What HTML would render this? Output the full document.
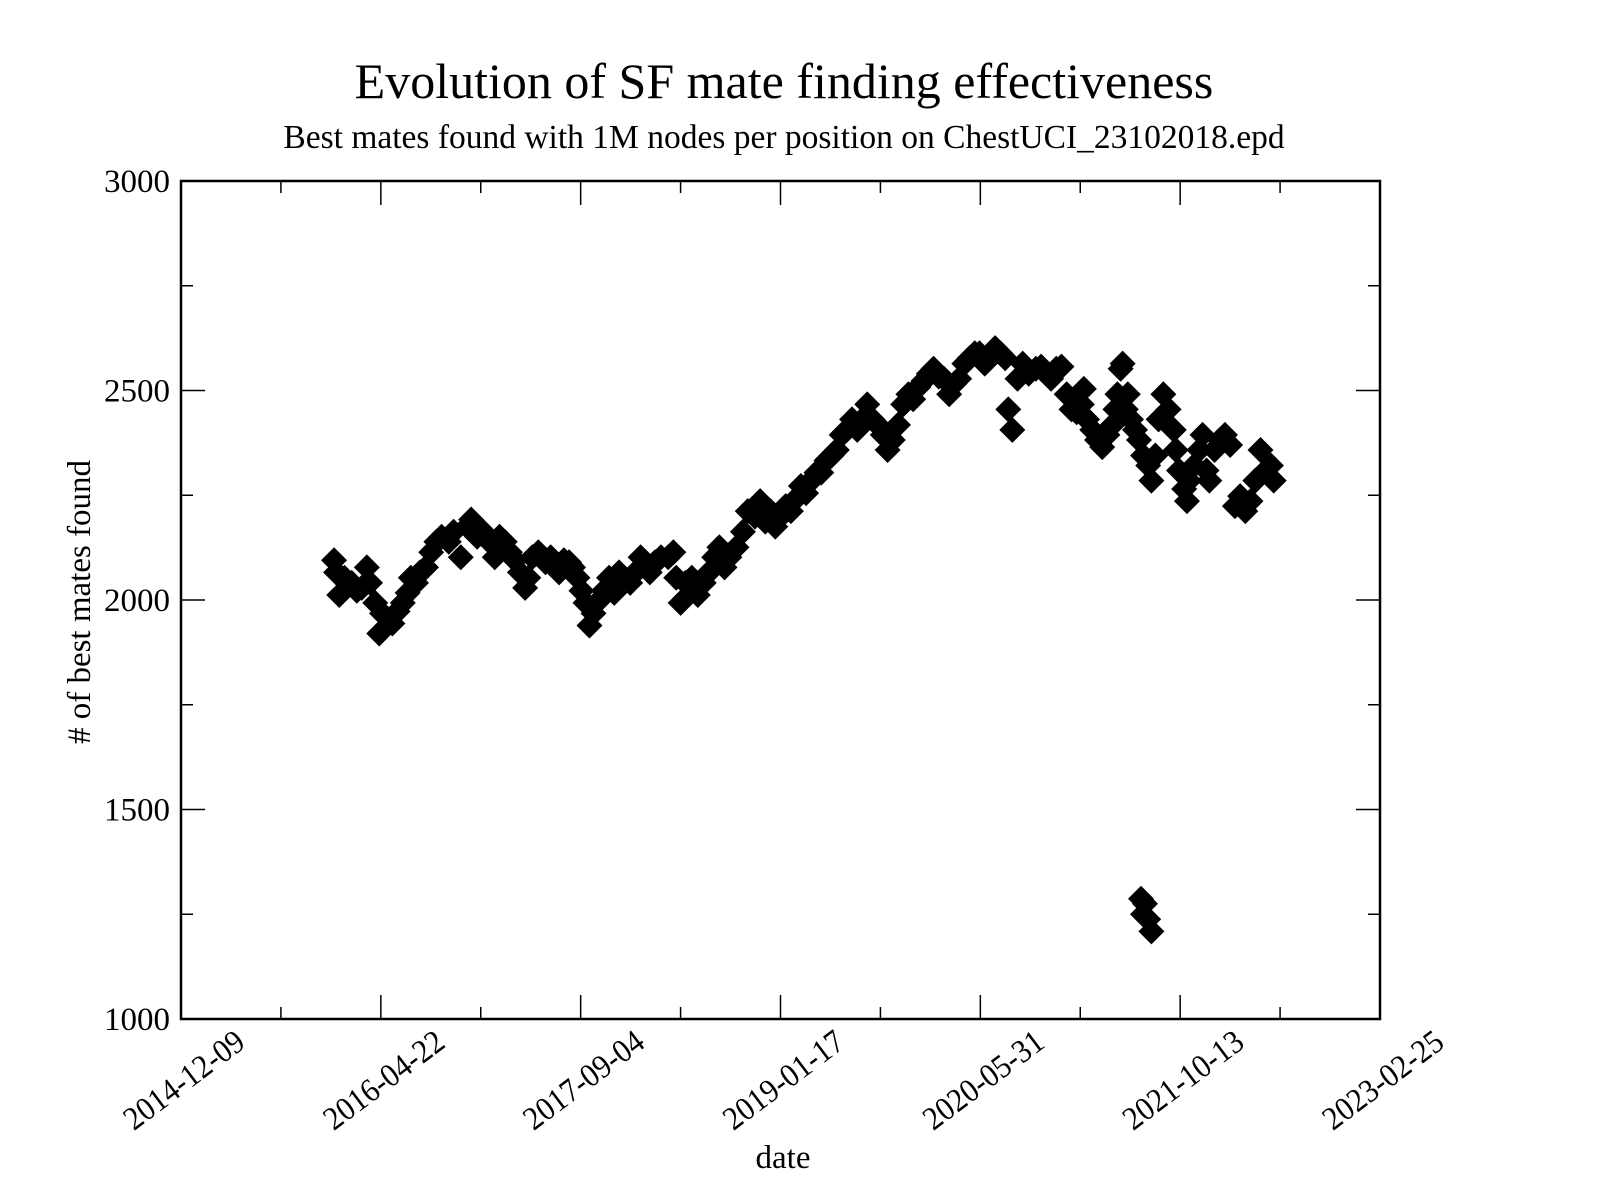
<!DOCTYPE html>
<html><head><meta charset="utf-8"><style>
html,body{margin:0;padding:0;background:#fff;}
svg{display:block;font-family:"Liberation Serif",serif;}
</style></head><body>
<svg id="chart" width="1600" height="1200" viewBox="0 0 1600 1200">
<rect x="0" y="0" width="1600" height="1200" fill="#fff"/>
<text x="784" y="98" font-size="50" text-anchor="middle">Evolution of SF mate finding effectiveness</text>
<text x="784" y="148" font-size="33.5" text-anchor="middle">Best mates found with 1M nodes per position on ChestUCI_23102018.epd</text>
<text x="0" y="0" font-size="33" text-anchor="middle" transform="translate(90,602) rotate(-90)"># of best mates found</text>
<text x="783" y="1168" font-size="33" text-anchor="middle">date</text>
<g id="ticks"></g>
<g id="marks"></g>
<rect x="181" y="181" width="1199" height="838" fill="none" stroke="#000" stroke-width="2.5"/>
</svg>
<script>
const days = [383,388,396,409,427,440,452,465,473,486,496,503,516,529,542,555,567,575,588,598,613,626,639,652,670,682,700,716,726,741,756,772,785,797,810,823,836,848,861,869,879,894,912,925,946,958,971,981,992,1002,1012,1022,1032,1045,1058,1071,1084,1096,1109,1124,1137,1150,1163,1173,1186,1201,1219,1232,1239,1250,1262,1278,1293,1308,1321,1334,1347,1360,1372,1390,1406,1418,1436,1449,1462,1475,1487,1500,1513,1526,1538,1551,1564,1577,1590,1602,1615,1628,1641,1653,1666,1679,1692,1705,1717,1730,1743,1756,1768,1781,1794,1807,1820,1832,1845,1858,1871,1883,1896,1909,1922,1935,1947,1960,1973,1986,1998,2011,2024,2037,2050,2062,2070,2080,2093,2106,2121,2139,2152,2165,2177,2190,2203,2216,2228,2241,2254,2259,2267,2280,2292,2305,2318,2331,2338,2343,2351,2356,2364,2369,2377,2387,2397,2407,2420,2428,2438,2446,2458,2471,2484,2489,2497,2510,2517,2522,2535,2548,2556,2566,2573,2586,2599,2612,2625,2637,2650,2663,2676,2688,2701,2714,2727,2734,2402,2412,2420,2428,2407];
const values = [2095,2066,2012,2053,2041,2022,2029,2078,2041,1993,1920,1968,1956,1944,1973,1993,2017,2053,2041,2066,2078,2114,2139,2151,2139,2163,2102,2175,2192,2151,2163,2139,2102,2151,2139,2114,2095,2066,2029,2053,2102,2114,2090,2102,2066,2095,2090,2078,2053,2022,1993,1939,1968,1998,2022,2053,2017,2066,2053,2041,2066,2102,2078,2066,2090,2102,2102,2114,2053,1993,2041,2053,2012,2041,2066,2102,2126,2078,2102,2126,2163,2212,2199,2236,2187,2212,2175,2199,2224,2212,2241,2272,2255,2285,2304,2304,2333,2345,2358,2394,2406,2431,2406,2431,2467,2431,2418,2394,2358,2382,2418,2467,2491,2479,2508,2523,2540,2552,2533,2528,2491,2516,2528,2564,2577,2589,2589,2564,2577,2601,2589,2577,2455,2406,2528,2564,2540,2552,2557,2540,2528,2552,2557,2491,2455,2448,2467,2504,2431,2406,2382,2365,2394,2418,2455,2491,2552,2564,2455,2491,2431,2406,2382,2345,2321,2285,2345,2431,2491,2455,2406,2358,2309,2265,2236,2285,2321,2358,2394,2309,2285,2358,2382,2394,2370,2224,2248,2212,2236,2285,2358,2309,2321,2285,1287,1275,1238,1209,1250];
const xTickLabels = ["2014-12-09","2016-04-22","2017-09-04","2019-01-17","2020-05-31","2021-10-13","2023-02-25"];
const yTickValues = [1000,1500,2000,2500,3000];

const NS = "http://www.w3.org/2000/svg";
const L=181,R=1380,T=181,B=1019, DMAX=3000, YMIN=1000, YMAX=3000;
const xS = d => L + d/DMAX*(R-L);
const yS = v => B - (v-YMIN)/(YMAX-YMIN)*(B-T);
function mk(tag, attrs, parent){const e=document.createElementNS(NS,tag);for(const k in attrs)e.setAttribute(k,attrs[k]);parent.appendChild(e);return e;}
const tg=document.getElementById('ticks');
for(let i=0;i<=12;i++){
  const d=i*250, x=xS(d), len=(i%2===0)?24:12;
  const t1=mk('line',{x1:x,y1:B,x2:x,y2:B-len,stroke:'#000','stroke-width':1.5},tg);
  
  
  const t2=mk('line',{x1:x,y1:T,x2:x,y2:T+len,stroke:'#000','stroke-width':1.5},tg);
  
  
}
xTickLabels.forEach((lab,i)=>{
  const x=xS(i*500);
  const t=mk('text',{x:0,y:0,'font-size':33,'text-anchor':'end',transform:`translate(${x+66},${1046}) rotate(-37) scale(0.92,1)`},tg);
  t.textContent=lab;
  
  
});
for(let v=1000;v<=3000;v+=250){
  const y=yS(v), len=(v%500===0)?24:12;
  const a=mk('line',{x1:L,y1:y,x2:L+len,y2:y,stroke:'#000','stroke-width':1.5},tg);
  
  
  const b=mk('line',{x1:R,y1:y,x2:R-len,y2:y,stroke:'#000','stroke-width':1.5},tg);
  
  
}
yTickValues.forEach(v=>{
  const t=mk('text',{x:170,y:yS(v)+11,'font-size':33,'text-anchor':'end'},tg);
  t.textContent=String(v);
  
  
});
const mg=document.getElementById('marks');
const h=13;
days.forEach((d,i)=>{
  const x=xS(d), y=yS(values[i]);
  const p=mk('polygon',{points:`${x},${y-h} ${x+h},${y} ${x},${y+h} ${x-h},${y}`,fill:'#000'},mg);
  
  
});
</script>
</body></html>
